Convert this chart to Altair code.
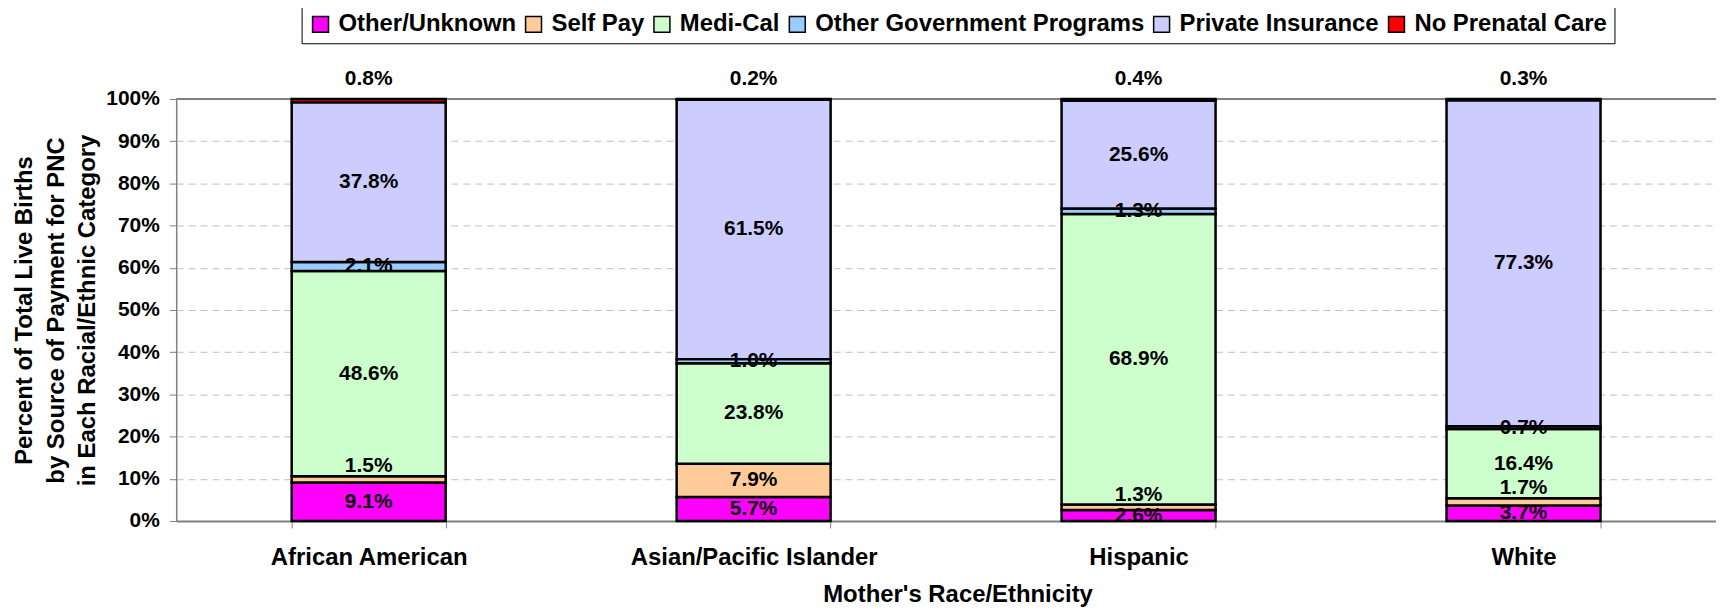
import altair as alt
import pandas as pd

races = ["African American", "Asian/Pacific Islander", "Hispanic", "White"]
sources = ["Other/Unknown", "Self Pay", "Medi-Cal", "Other Government Programs",
           "Private Insurance", "No Prenatal Care"]
colors = ["#FF00FF", "#FFCC99", "#CCFFCC", "#99CCFF", "#CCCCFF", "#FF0000"]

other_unknown = [9.1, 5.7, 2.6, 3.7]
self_pay = [1.5, 7.9, 1.3, 1.7]
medi_cal = [48.6, 23.8, 68.9, 16.4]
other_gov = [2.1, 1.0, 1.3, 0.7]
private_ins = [37.8, 61.5, 25.6, 77.3]
no_pnc = [0.8, 0.2, 0.4, 0.3]

series = [other_unknown, self_pay, medi_cal, other_gov, private_ins, no_pnc]
y_ticks = [0, 0.1, 0.2, 0.3, 0.4, 0.5, 0.6, 0.7, 0.8, 0.9, 1.0]

rows = []
for si, (src, vals) in enumerate(zip(sources, series)):
    for r, v in zip(races, vals):
        rows.append({"race": r, "source": src, "value": v, "order": si,
                     "label": f"{v:.1f}%"})
df = pd.DataFrame(rows)

FONT = "Liberation Sans"

x_enc = alt.X("race:N", sort=races, title="Mother's Race/Ethnicity",
              scale=alt.Scale(paddingInner=0.6, paddingOuter=0.3),
              axis=alt.Axis(labelAngle=0, labelFontSize=24, labelFontWeight="bold",
                            labelColor="black", labelBaseline="alphabetic",
                            labelPadding=37, labelLimit=0, tickSize=7,
                            tickColor="#808080",
                            tickBand="extent", domainColor="#808080", domainWidth=2,
                            grid=False, titleFontSize=24, titleFontWeight="bold",
                            titleColor="black", titleBaseline="alphabetic",
                            titleY=81, titleX=785))

base = alt.Chart(df).transform_stack(
    stack="value", groupby=["race"], sort=[alt.SortField("order")],
    as_=["y0", "y1"], offset="normalize"
).transform_calculate(mid="(datum.y0 + datum.y1) / 2")

bars = base.mark_bar(stroke="black", strokeWidth=2.5).encode(
    x=x_enc,
    y=alt.Y("y0:Q", scale=alt.Scale(domain=[0, 1]),
            title=["Percent of Total Live Births", "by Source of Payment for PNC",
                   "in Each Racial/Ethnic Category"],
            axis=alt.Axis(values=y_ticks, format=".0%", labelFontSize=21,
                          labelFontWeight="bold", labelColor="black",
                          labelPadding=10, tickSize=7, tickColor="#808080",
                          domainColor="#808080", domainWidth=1.5,
                          gridColor="#c0c0c0", gridDash=[7, 5], gridWidth=1,
                          titleFontSize=24, titleFontWeight="bold", titleColor="black",
                          titleBaseline="alphabetic", titleAlign="center",
                          titleLineHeight=31.5, titleX=-145, titleY=212)),
    y2="y1:Q",
    color=alt.Color("source:N", scale=alt.Scale(domain=sources, range=colors),
                    legend=alt.Legend(title=None)),
    order=alt.Order("order:Q"),
)

top_rule = alt.Chart(pd.DataFrame({"y": [1.0]})).mark_rule(
    color="#808080", strokeWidth=2).encode(y="y:Q")

text_style = dict(fontSize=21, fontWeight="bold", color="black", font=FONT)

mid_labels = base.transform_filter(
    "datum.source != 'No Prenatal Care' && !(datum.source == 'Self Pay' && datum.value < 5)"
).mark_text(baseline="middle", **text_style).encode(
    x=alt.X("race:N", sort=races), y="mid:Q", text="label:N")

above_labels = base.transform_filter(
    "datum.source == 'Self Pay' && datum.value < 5"
).mark_text(baseline="alphabetic", dy=-4, **text_style).encode(
    x=alt.X("race:N", sort=races), y="y1:Q", text="label:N")

top_labels = base.transform_filter(
    "datum.source == 'No Prenatal Care'"
).mark_text(baseline="alphabetic", dy=-14, **text_style).encode(
    x=alt.X("race:N", sort=races), y="y1:Q", text="label:N")

chart = alt.layer(top_rule, bars, mid_labels, above_labels, top_labels).properties(
    width=1547, height=424,
    autosize=alt.AutoSizeParams(type="none"),
    padding={"left": 169, "top": 90, "right": 0, "bottom": 92},
).configure(font=FONT).configure_view(stroke=None).configure_legend(
    orient="none", legendX=126, legendY=-94, direction="horizontal",
    labelFontSize=24, labelFontWeight="bold", labelColor="black", labelLimit=0,
    symbolType="square", symbolSize=256, symbolStrokeColor="black",
    symbolStrokeWidth=1.5, labelOffset=6, columnPadding=5, padding=7,
    strokeColor="black",
)

chart.save("out.html", embed_options={"renderer": "svg", "actions": False})
